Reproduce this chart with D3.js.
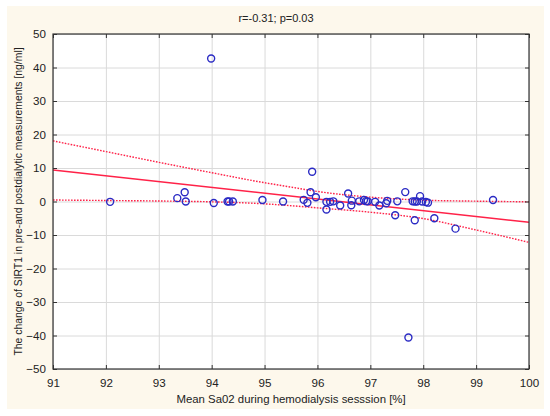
<!DOCTYPE html>
<html>
<head>
<meta charset="utf-8">
<script src="https://cdn.jsdelivr.net/npm/d3@7"></script>
<style>
body { margin: 0; background: #fff; }
svg text { font-family: "Liberation Sans", Arial, sans-serif; fill: #222; }
</style>
</head>
<body>
<div id="chart"></div>
<script>
// data
var sa02 = [92.08, 93.35, 93.49, 93.51, 93.99, 94.04, 94.30, 94.33, 94.40, 94.96,
  95.35, 95.74, 95.81, 95.87, 95.90, 95.97, 96.17, 96.24, 96.30, 96.17,
  96.43, 96.58, 96.64, 96.65, 96.79, 96.88, 96.92, 96.95, 97.09, 97.17,
  97.30, 97.32, 97.51, 97.47, 97.66, 97.80, 97.84, 97.88, 97.94, 97.98,
  98.05, 98.09, 97.84, 98.21, 98.61, 99.32, 97.72];
var sirtChange = [-0.1, 1.0, 2.75, 0.0, 42.7, -0.45, 0.0, 0.0, 0.0, 0.45,
  0.0, 0.5, -0.4, 2.75, 8.9, 1.25, -0.1, -0.1, 0.05, -2.4,
  -1.2, 2.4, -1.1, 0.25, 0.05, 0.45, 0.1, 0.05, -0.1, -1.2,
  -0.5, 0.2, 0.05, -4.1, 2.8, 0.05, 0.0, 0.0, 1.6, 0.0,
  -0.15, -0.35, -5.6, -5.0, -8.1, 0.45, -40.6];

// regression line and 95% bands
var fitX = [91, 100];
var fitY = [9.4, -6.2];
var bandX = [91, 92, 93, 94, 95, 95.5, 96, 97, 98, 99, 100];
var bandUpper = [18.1, 14.9, 11.7, 8.6, 5.6, 4.3, 3.0, 1.3, 0.4, 0.1, -0.1];
var bandLower = [0.45, 0.3, 0.15, -0.1, -0.7, -1.25, -1.9, -3.2, -5.1, -8.5, -12.2];

var xTicks = [91, 92, 93, 94, 95, 96, 97, 98, 99, 100];
var yTicks = [-50, -40, -30, -20, -10, 0, 10, 20, 30, 40, 50];

var svgWidth = 550;
var svgHeight = 416;
var margin = {top: 34, right: 21, bottom: 47, left: 53};
var width = svgWidth - margin.left - margin.right;
var height = svgHeight - margin.top - margin.bottom;

var svg = d3.select("#chart")
  .append("svg")
  .attr("width", svgWidth)
  .attr("height", svgHeight);

// cream panel
svg.append("rect")
  .attr("x", 7).attr("y", 6)
  .attr("width", 537).attr("height", 403)
  .attr("fill", "#fdf8ec");

var chartGroup = svg.append("g")
  .attr("transform", `translate(${margin.left}, ${margin.top})`);

var x = d3.scaleLinear().domain([91, 100]).range([0, width]);
var y = d3.scaleLinear().domain([-50, 50]).range([height, 0]);

chartGroup.append("rect")
  .attr("width", width).attr("height", height)
  .attr("fill", "#fff");

// grid
chartGroup.append("g")
  .call(d3.axisBottom(x).tickValues(xTicks).tickSize(height).tickFormat(""))
  .call(g => g.select(".domain").remove())
  .selectAll("line").attr("stroke", "#dadada");
chartGroup.append("g")
  .call(d3.axisLeft(y).tickValues(yTicks).tickSize(-width).tickFormat(""))
  .call(g => g.select(".domain").remove())
  .selectAll("line").attr("stroke", "#dadada");

// lines
var line = d3.line().x(d => x(d[0])).y(d => y(d[1]));
var bandLine = d3.line().x(d => x(d[0])).y(d => y(d[1])).curve(d3.curveMonotoneX);

chartGroup.append("path")
  .datum(fitX.map((v, i) => [v, fitY[i]]))
  .attr("d", line)
  .attr("fill", "none")
  .attr("stroke", "#ff2248")
  .attr("stroke-width", 1.4);

[bandUpper, bandLower].forEach(function(band) {
  chartGroup.append("path")
    .datum(bandX.map((v, i) => [v, band[i]]))
    .attr("d", bandLine)
    .attr("fill", "none")
    .attr("stroke", "#ff2248")
    .attr("stroke-width", 1.4)
    .attr("stroke-dasharray", "1.6,1.4");
});

// points
chartGroup.selectAll("circle")
  .data(sa02.map((v, i) => [v, sirtChange[i]]))
  .enter()
  .append("circle")
  .attr("cx", d => x(d[0]))
  .attr("cy", d => y(d[1]))
  .attr("r", 3.5)
  .attr("fill", "none")
  .attr("stroke", "#2a2ac4")
  .attr("stroke-width", 1.4);

// axes
var bottomAxis = d3.axisBottom(x).tickValues(xTicks).tickSize(-4).tickPadding(10);
var leftAxis = d3.axisLeft(y).tickValues(yTicks).tickSize(-4).tickPadding(7);
var topAxis = d3.axisTop(x).tickValues(xTicks).tickSize(-4).tickFormat("");
var rightAxis = d3.axisRight(y).tickValues(yTicks).tickSize(-4).tickFormat("");

function styleAxis(g) {
  g.select(".domain").remove();
  g.selectAll("line").attr("stroke", "#333");
  g.selectAll("text").attr("font-size", "11.6px").attr("fill", "#222")
    .attr("font-family", "Liberation Sans, Arial, sans-serif");
}

chartGroup.append("g").attr("transform", `translate(0, ${height})`).call(bottomAxis).call(styleAxis);
chartGroup.append("g").call(leftAxis).call(styleAxis);
chartGroup.append("g").call(topAxis).call(styleAxis);
chartGroup.append("g").attr("transform", `translate(${width}, 0)`).call(rightAxis).call(styleAxis);

chartGroup.append("rect")
  .attr("width", width).attr("height", height)
  .attr("fill", "none")
  .attr("stroke", "#333")
  .attr("stroke-width", 1.2);

// labels
svg.append("text")
  .attr("x", 276).attr("y", 22)
  .attr("text-anchor", "middle")
  .attr("font-size", "11px")
  .text("r=-0.31; p=0.03");

svg.append("text")
  .attr("x", 291).attr("y", 403)
  .attr("text-anchor", "middle")
  .attr("font-size", "11.4px")
  .text("Mean Sa02 during hemodialysis sesssion [%]");

svg.append("text")
  .attr("transform", `translate(22, ${margin.top + height / 2}) rotate(-90)`)
  .attr("text-anchor", "middle")
  .attr("font-size", "10.4px")
  .text("The change of SIRT1 in pre-and postdialytic measurements [ng/ml]");
</script>
</body>
</html>
